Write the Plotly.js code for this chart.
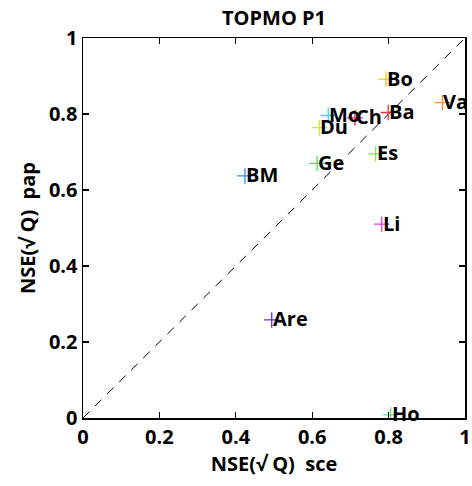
<!DOCTYPE html>
<html>
<head>
<meta charset="utf-8">
<script src="https://cdn.plot.ly/plotly-3.0.1.min.js"></script>
<style>html,body{margin:0;padding:0;background:#fff;}</style>
</head>
<body>
<div id="chart" style="width:472px;height:486px;"></div>
<script>
const names = ["Bo","Va","Ba","Ch","Mo","Du","Es","Ge","BM","Li","Are","Ho"];
const nseSce = [0.793,0.941,0.799,0.712,0.642,0.619,0.766,0.613,0.424,0.782,0.494,0.805];
const nsePap = [0.892,0.830,0.804,0.790,0.796,0.764,0.695,0.670,0.637,0.510,0.258,0.008];
const colors = ["#ecc91c","#ff8a3a","#ff2a3a","#e8206a","#22ddf5","#c4ee2a","#78ee3a","#3ee858","#2a8ff0","#f03ae0","#6428f0","#3ef0a0"];
const diagX = [0,1];
const diagY = [0,1];
const tickVals = [0,0.2,0.4,0.6,0.8,1];
const tickText = ["0","0.2","0.4","0.6","0.8","1"];

const fontFam = "Open Sans, Lato, sans-serif";

const traces = [
  {x: diagX, y: diagY, mode: "lines", line: {color: "#000", width: 1, dash: "9px,8px"}, hoverinfo: "skip", showlegend: false},
  {x: nseSce, y: nsePap, mode: "markers", marker: {symbol: "cross-thin-open", size: 11, color: colors, line: {width: 1.3}}, showlegend: false}
];

const annotations = names.map((n, i) => ({
  x: nseSce[i], y: nsePap[i], xref: "x", yref: "y", text: n, showarrow: false,
  xanchor: "left", yanchor: "middle", xshift: -1, yshift: 1,
  font: {family: fontFam, size: 20, color: "#000", weight: "bold"}
}));

const axisCommon = {
  range: [0, 1], tickvals: tickVals, ticktext: tickText,
  ticks: "inside", ticklen: 6, tickwidth: 1.3, tickcolor: "#000",
  showline: true, linecolor: "#000", linewidth: 1.5, mirror: "ticks",
  showgrid: false, zeroline: false,
  tickfont: {family: fontFam, size: 20, color: "#000", weight: "bold"}
};

const layout = {
  width: 472, height: 486,
  margin: {l: 83, r: 7, t: 38, b: 68},
  paper_bgcolor: "#fff", plot_bgcolor: "#fff",
  title: {text: "TOPMO P1", xref: "paper", x: 0.5, xanchor: "center",
          yref: "container", y: 0.963, yanchor: "middle",
          font: {family: fontFam, size: 20, color: "#000", weight: "bold"}},
  xaxis: Object.assign({}, axisCommon, {
    title: {text: "NSE(√ Q)  sce", standoff: 2, font: {family: fontFam, size: 20, color: "#000", weight: "bold"}}
  }),
  yaxis: Object.assign({}, axisCommon, {
    title: {text: "NSE(√ Q)  pap", standoff: 8, font: {family: fontFam, size: 20, color: "#000", weight: "bold"}}
  }),
  annotations: annotations,
  showlegend: false
};

Plotly.newPlot("chart", traces, layout, {displayModeBar: false, staticPlot: true});
</script>
</body>
</html>
